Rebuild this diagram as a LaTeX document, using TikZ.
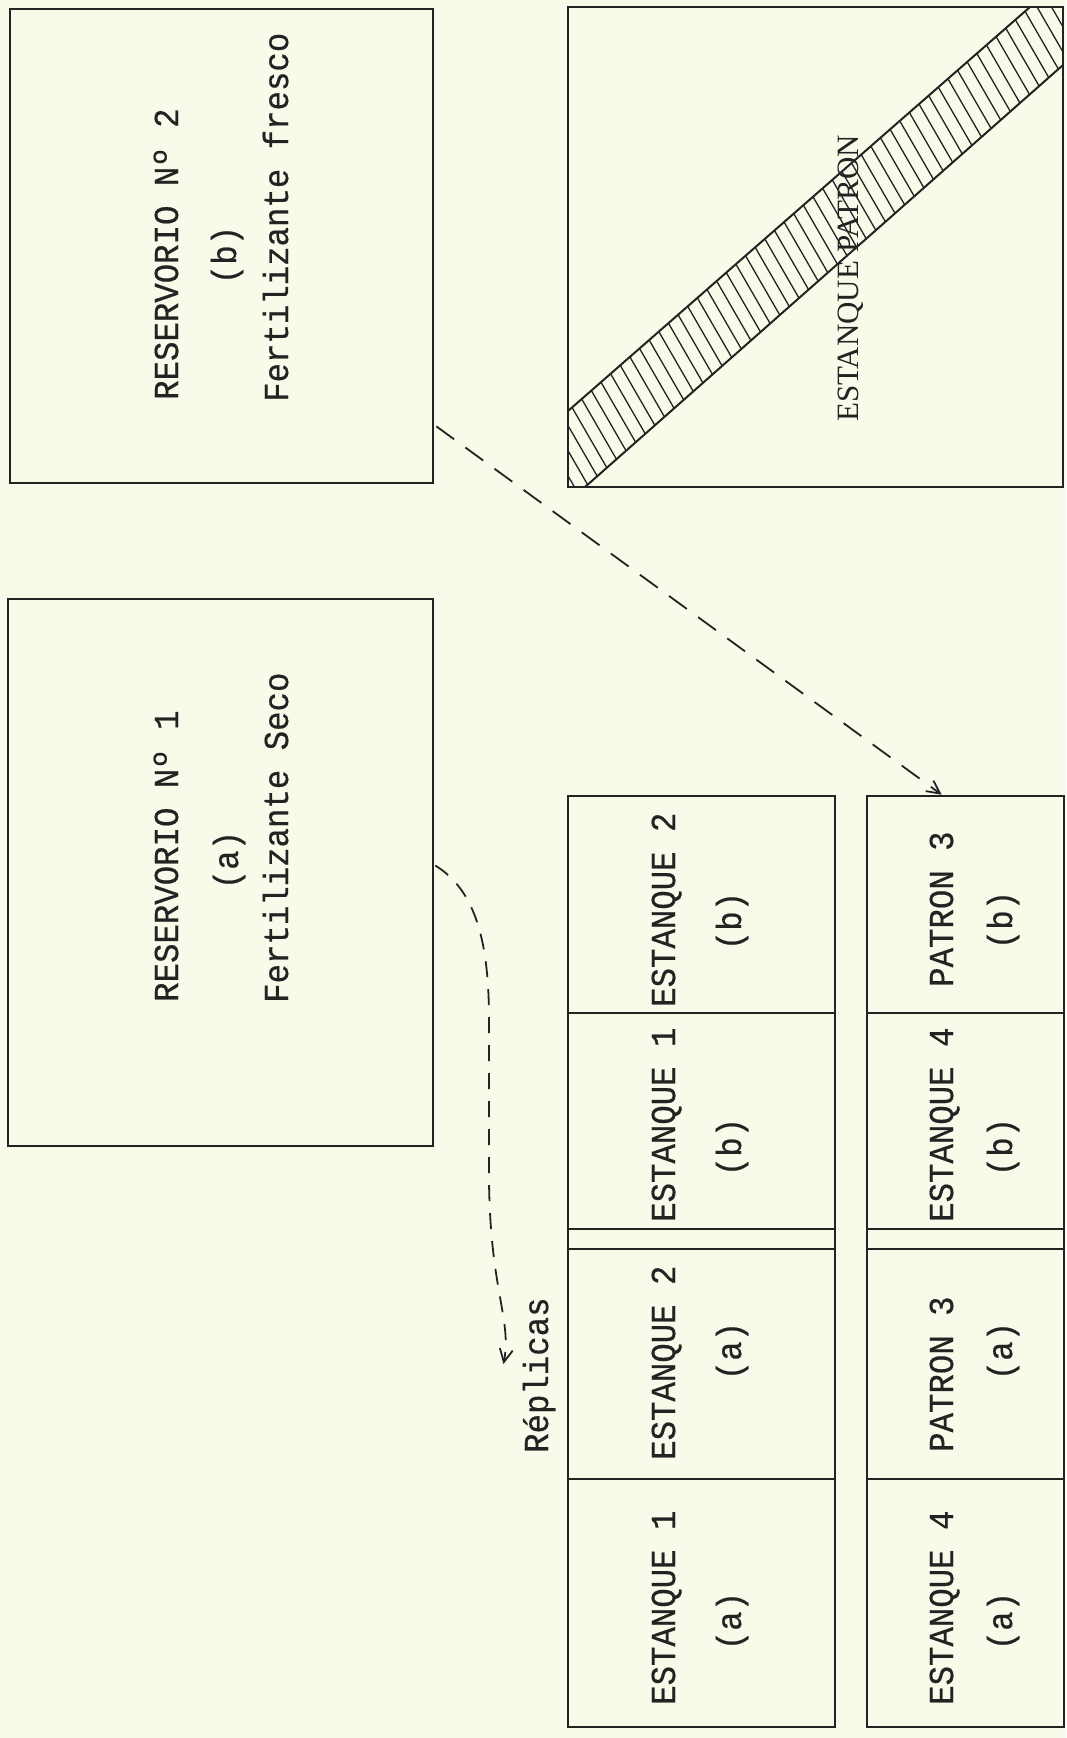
\documentclass[tikz,border=0pt]{standalone}
\usepackage{fontspec}
\newfontfamily\tw[FakeStretch=0.925,FakeBold=0.5]{Liberation Mono}
\newfontfamily\sr{Liberation Serif}
\usetikzlibrary{arrows.meta,calc}
\definecolor{paper}{RGB}{250,250,234}
\definecolor{ink}{RGB}{35,35,35}
\begin{document}
\begin{tikzpicture}[x=1pt,y=-1pt,
  box/.style={draw=ink,line width=2.6pt,inner sep=0pt,rectangle},
  rule/.style={draw=ink,line width=2.6pt},
  tt/.style={font={\tw\fontsize{35pt}{38pt}\selectfont},rotate=90,anchor=base west,inner sep=0pt,text=ink},
  tp/.style={font={\tw\fontsize{35pt}{38pt}\selectfont},rotate=90,anchor=base,inner sep=0pt,text=ink},
  ts/.style={font={\sr\fontsize{31pt}{34pt}\selectfont},rotate=90,anchor=base west,inner sep=0pt,text=ink},
  hatch/.style={draw=ink,line width=1.3pt},
  dashA/.style={draw=ink,line width=1.8pt,dash pattern=on 22pt off 14pt},
  dashB/.style={draw=ink,line width=1.8pt,dash pattern=on 16pt off 12pt},
  tip/.style={-{Straight Barb[length=13pt,width=13pt,line width=1.8pt]}}]
\useasboundingbox (0,0) rectangle (1066,1738);
\fill[paper] (0,0) rectangle (1066,1738);

% boxes
\node[box,minimum width=423pt,minimum height=474pt] (r2) at (221.5,246) {};
\node[box,minimum width=425pt,minimum height=547pt] (r1) at (220.5,872.5) {};
\node[box,line width=2.2pt,minimum width=495pt,minimum height=480pt] (pat) at (815.5,247) {};
\node[box,minimum width=267pt,minimum height=931pt] (tl) at (701.5,1261.5) {};
\node[box,minimum width=197pt,minimum height=931pt] (tr) at (965.5,1261.5) {};

% table rules
\foreach \yy in {1013,1229,1249,1479}{
  \draw[rule] (tl.west |- 0,\yy) -- (tl.east |- 0,\yy);
  \draw[rule] (tr.west |- 0,\yy) -- (tr.east |- 0,\yy);
}

% hatched band
\begin{scope}
\clip (568,411) -- (1030,7) -- (1063,7) -- (1063,65) -- (585,487) -- (568,487) -- cycle;
\foreach \i in {0,...,62}{ \draw[hatch] (250+14.5*\i,0) -- ++(300,520); }
\end{scope}
\draw[ink,line width=2pt] (568,411) -- (1030,7);
\draw[ink,line width=2pt] (585,487) -- (1063,65);

% texts
\node[tt] (r2a) at (178,400) {RESERVORIO Nº 2};
\node[tp] (r2b) at (236,255) {(b)};
\node[tt] (r2c) at (288,402) {Fertilizante fresco};
\node[tt] (r1a) at (178,1002) {RESERVORIO Nº 1};
\node[tp] (r1b) at (238,860) {(a)};
\node[tt] (r1c) at (288,1003) {Fertilizante Seco};

\node[ts] (pt) at (858,422) {ESTANQUE PATRON};

\node[tt] (l1) at (675,1007) {ESTANQUE 2};
\node[tp] (l1p) at (741,921) {(b)};
\node[tt] (l2) at (675,1222) {ESTANQUE 1};
\node[tp] (l2p) at (741,1147) {(b)};
\node[tt] (l3) at (675,1460) {ESTANQUE 2};
\node[tp] (l3p) at (741,1351) {(a)};
\node[tt] (l4) at (675,1705) {ESTANQUE 1};
\node[tp] (l4p) at (741,1621) {(a)};

\node[tt] (q1) at (953,987) {PATRON 3};
\node[tp] (q1p) at (1012,920) {(b)};
\node[tt] (q2) at (953,1222) {ESTANQUE 4};
\node[tp] (q2p) at (1012,1147) {(b)};
\node[tt] (q3) at (953,1452) {PATRON 3};
\node[tp] (q3p) at (1012,1351) {(a)};
\node[tt] (q4) at (953,1705) {ESTANQUE 4};
\node[tp] (q4p) at (1012,1621) {(a)};

\node[tt] (rep) at (548,1453) {Réplicas};

% connectors
\draw[dashA,tip] ($(r2.south east)+(2,-58)$) -- ($(tr.north west)+(76,0)$);
\draw[dashB,tip] ($(r1.east)+(1,-7)$) .. controls (475,890) and (489,940) .. (489,1020)
  -- (489,1180) .. controls (490,1290) and (512,1320) .. ($(rep.north)+(-19,-11)$);
\end{tikzpicture}
\end{document}
